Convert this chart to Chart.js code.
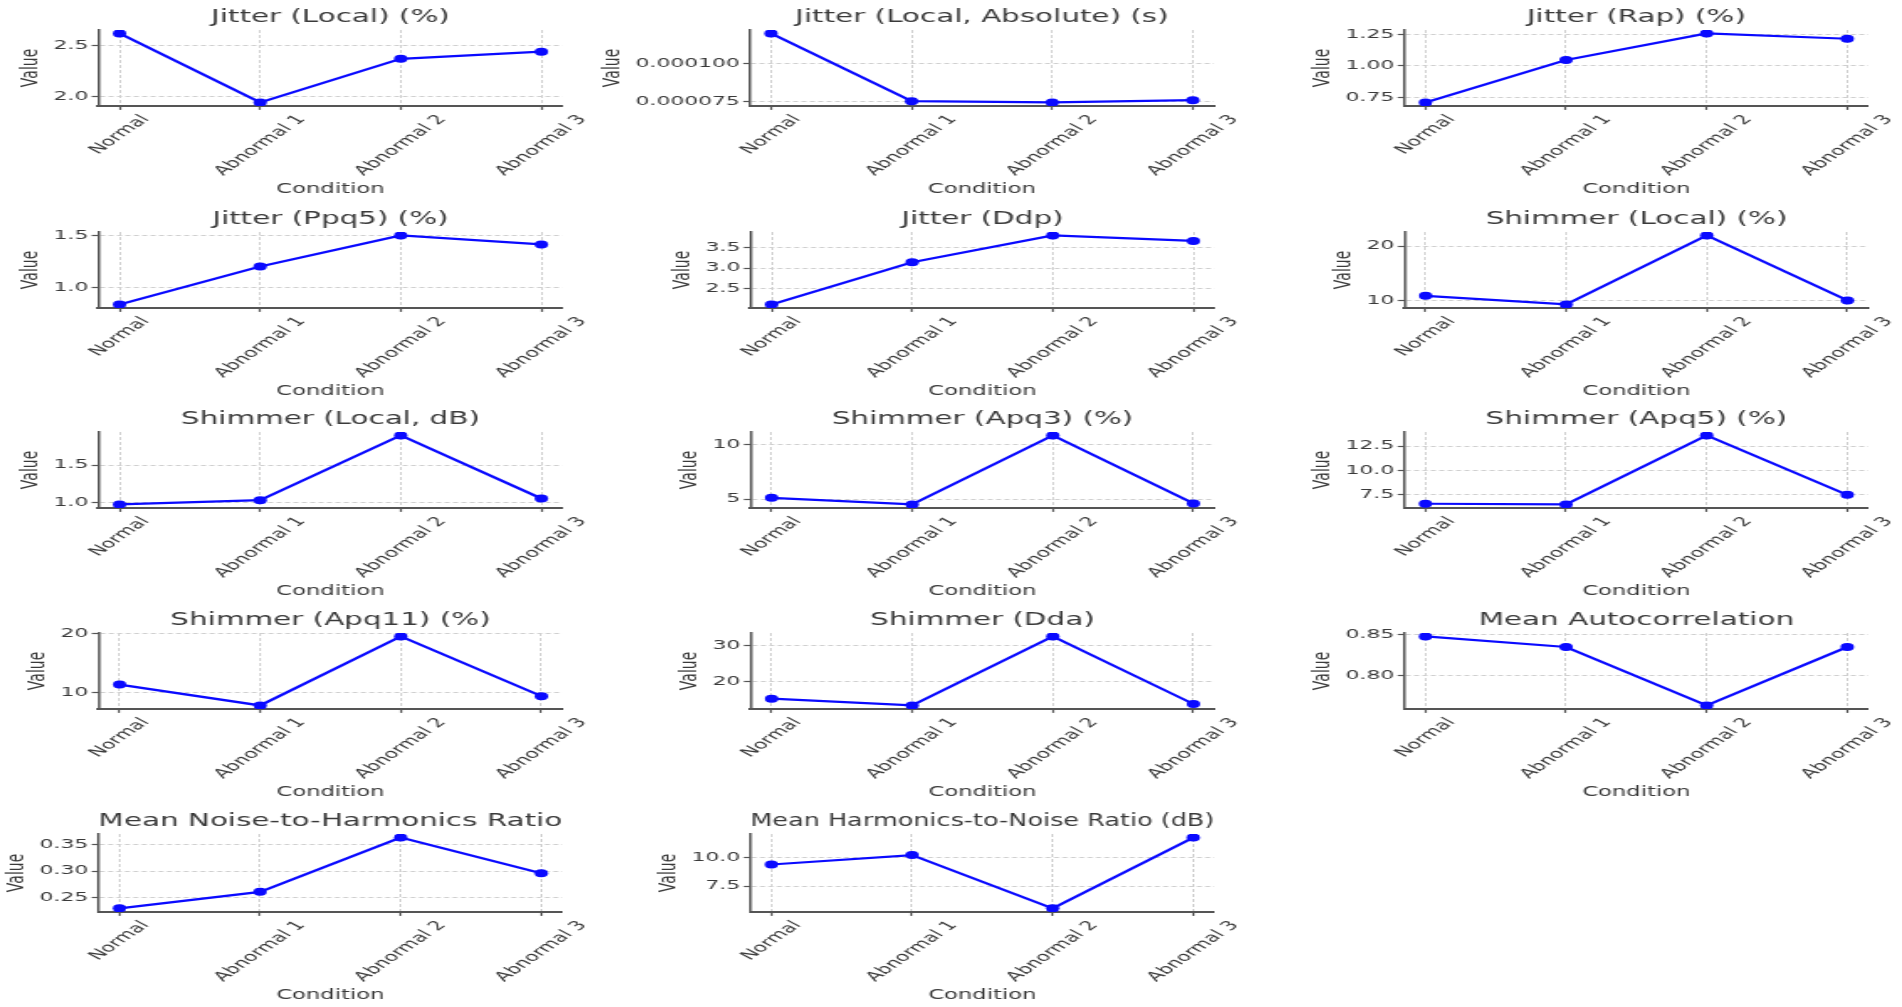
<!DOCTYPE html>
<html>
<head>
<meta charset="utf-8">
<title>Voice measures by condition</title>
<script src="https://cdn.jsdelivr.net/npm/chart.js@4.4.1/dist/chart.umd.min.js"></script>
<style>
  html, body { margin: 0; padding: 0; background: #fff; }
  #page { position: relative; width: 1902px; height: 1007px; overflow: hidden; background: #fff; }
  .cell { position: absolute; transform-origin: 0 0; }
  .cell canvas { display: block; }
</style>
</head>
<body>
<div id="page"></div>
<script>
// categories
const conditions = ['Normal', 'Abnormal 1', 'Abnormal 2', 'Abnormal 3'];

// series values
const jitterLocal    = [2.62, 1.94, 2.37, 2.44];
const jitterLocalAbs = [0.0001196, 0.0000754, 0.0000746, 0.0000761];
const jitterRap      = [0.71, 1.047, 1.258, 1.216];
const jitterPpq5     = [0.835, 1.199, 1.497, 1.411];
const jitterDdp      = [2.13, 3.14, 3.78, 3.65];
const shimmerLocal   = [10.85, 9.27, 21.95, 10.0];
const shimmerLocalDb = [0.97, 1.027, 1.90, 1.05];
const shimmerApq3    = [5.12, 4.51, 10.85, 4.6];
const shimmerApq5    = [6.59, 6.52, 13.58, 7.5];
const shimmerApq11   = [11.4, 7.87, 19.55, 9.44];
const shimmerDda     = [15.2, 13.3, 32.6, 13.7];
const meanAutocorr   = [0.848, 0.835, 0.763, 0.835];
const meanNhr        = [0.23, 0.261, 0.363, 0.296];
const meanHnr        = [9.38, 10.2, 5.56, 11.73];

// tick labels
const jitterLocalTicks    = ['2.0', '2.5'];
const jitterLocalAbsTicks = ['0.000075', '0.000100'];
const jitterRapTicks      = ['0.75', '1.00', '1.25'];
const jitterPpq5Ticks     = ['1.0', '1.5'];
const jitterDdpTicks      = ['2.5', '3.0', '3.5'];
const shimmerLocalTicks   = ['10', '20'];
const shimmerLocalDbTicks = ['1.0', '1.5'];
const shimmerApq3Ticks    = ['5', '10'];
const shimmerApq5Ticks    = ['7.5', '10.0', '12.5'];
const shimmerApq11Ticks   = ['10', '20'];
const shimmerDdaTicks     = ['20', '30'];
const meanAutocorrTicks   = ['0.80', '0.85'];
const meanNhrTicks        = ['0.25', '0.30', '0.35'];
const meanHnrTicks        = ['7.5', '10.0'];

const panels = [
  { title: 'Jitter (Local) (%)', values: jitterLocal, ticks: jitterLocalTicks },
  { title: 'Jitter (Local, Absolute) (s)', values: jitterLocalAbs, ticks: jitterLocalAbsTicks },
  { title: 'Jitter (Rap) (%)', values: jitterRap, ticks: jitterRapTicks },
  { title: 'Jitter (Ppq5) (%)', values: jitterPpq5, ticks: jitterPpq5Ticks },
  { title: 'Jitter (Ddp)', values: jitterDdp, ticks: jitterDdpTicks },
  { title: 'Shimmer (Local) (%)', values: shimmerLocal, ticks: shimmerLocalTicks },
  { title: 'Shimmer (Local, dB)', values: shimmerLocalDb, ticks: shimmerLocalDbTicks },
  { title: 'Shimmer (Apq3) (%)', values: shimmerApq3, ticks: shimmerApq3Ticks },
  { title: 'Shimmer (Apq5) (%)', values: shimmerApq5, ticks: shimmerApq5Ticks },
  { title: 'Shimmer (Apq11) (%)', values: shimmerApq11, ticks: shimmerApq11Ticks },
  { title: 'Shimmer (Dda)', values: shimmerDda, ticks: shimmerDdaTicks },
  { title: 'Mean Autocorrelation', values: meanAutocorr, ticks: meanAutocorrTicks },
  { title: 'Mean Noise-to-Harmonics Ratio', values: meanNhr, ticks: meanNhrTicks },
  { title: 'Mean Harmonics-to-Noise Ratio (dB)', values: meanHnr, ticks: meanHnrTicks }
];

// layout of the grid (page pixels)
const K = 1.68;                      // the picture is stretched sideways
const colSpine = [98, 750, 1404];
const rowTop = [29.5, 231.5, 431.5, 633, 833.5];
const rowPlotH = [76, 76, 76, 76, 78];
const PLOT_W = 464;

const FONT = "'DejaVu Sans', sans-serif";
const TEXT = '#3a3a3a';
const AXIS = '#555555';
const GRID = '#d0d0d0';
const LINE = '#0a0aff';

// matplotlib centres rotated tick labels under the tick, Chart.js ends them there
const centerRotatedLabels = {
  id: 'centerRotatedLabels',
  beforeDraw(chart) {
    const scale = chart.scales.x;
    const items = scale.getLabelItems();
    if (items._centred) return;
    const ctx = chart.ctx;
    ctx.save();
    items.forEach(item => {
      ctx.font = item.font.string;
      const w = ctx.measureText(item.label).width;
      item.options.translation[0] += (w / 2) * Math.cos(item.options.rotation);
    });
    ctx.restore();
    items._centred = true;
  }
};

function makeConfig(panel, padRight) {
  const vals = panel.values;
  const lo = Math.min(...vals), hi = Math.max(...vals);
  const m = (hi - lo) * 0.05;
  const tickVals = panel.ticks.map(Number);
  return {
    type: 'line',
    data: {
      datasets: [{
        data: vals.map((v, i) => ({ x: i, y: v })),
        borderColor: LINE,
        backgroundColor: LINE,
        borderWidth: 2.2,
        pointRadius: 4,
        pointBorderWidth: 0,
        tension: 0
      }]
    },
    options: {
      responsive: false,
      animation: false,
      events: [],
      layout: { padding: { left: 0, right: padRight, top: 0, bottom: 0 } },
      plugins: {
        legend: { display: false },
        tooltip: { enabled: false },
        title: {
          display: true,
          fullSize: false,
          text: panel.title,
          color: TEXT,
          font: { family: FONT, size: 17.5, weight: 'normal' },
          padding: { top: 0, bottom: 2 }
        }
      },
      scales: {
        x: {
          type: 'linear',
          bounds: 'data',
          min: -0.15,
          max: conditions.length - 1 + 0.15,
          afterBuildTicks: s => { s.ticks = conditions.map((c, i) => ({ value: i })); },
          ticks: {
            callback: v => conditions[v],
            minRotation: 49,
            maxRotation: 49,
            autoSkip: false,
            padding: 2,
            color: TEXT,
            font: { family: FONT, size: 13 }
          },
          grid: { color: GRID, lineWidth: 1, tickColor: AXIS, tickLength: 4, tickWidth: 1.2, tickBorderDash: [] },
          border: { color: AXIS, width: 2, dash: [3, 2] },
          title: {
            display: true,
            text: 'Condition',
            color: TEXT,
            font: { family: FONT, size: 13.5 },
            padding: { top: 1, bottom: 0 }
          }
        },
        y: {
          type: 'linear',
          bounds: 'data',
          min: lo - m,
          max: hi + m,
          afterBuildTicks: s => { s.ticks = tickVals.map(v => ({ value: v })); },
          ticks: {
            callback: (v, i) => panel.ticks[i],
            padding: 2,
            color: TEXT,
            font: { family: FONT, size: 13 }
          },
          grid: { color: GRID, lineWidth: 1, tickColor: AXIS, tickLength: 4, tickWidth: 1.2, tickBorderDash: [] },
          border: { color: AXIS, width: 1.5, dash: [3, 2] },
          title: {
            display: true,
            text: 'Value',
            color: TEXT,
            font: { family: FONT, size: 14 },
            padding: { top: 0, bottom: 3 }
          }
        }
      }
    },
    plugins: [centerRotatedLabels]
  };
}

const page = document.getElementById('page');

panels.forEach((panel, n) => {
  const row = Math.floor(n / 3), col = n % 3;
  const wrap = document.createElement('div');
  wrap.className = 'cell';
  wrap.style.transform = 'scaleX(' + K + ')';
  page.appendChild(wrap);

  const build = (w, h, padRight) => {
    wrap.innerHTML = '';
    const c = document.createElement('canvas');
    c.width = w;
    c.height = h;
    wrap.appendChild(c);
    return new Chart(c, makeConfig(panel, padRight));
  };

  // first pass: find how much room the axes and title take
  let chart = build(420, 240, 0);
  const a = chart.chartArea;
  const leftW = a.left, above = a.top, below = chart.height - a.bottom;
  chart.destroy();

  // second pass: exact plot size, room on the right for the last label
  const w = Math.round(leftW + PLOT_W / K + 40);
  const h = Math.round(above + rowPlotH[row] + below);
  chart = build(w, h, w - leftW - PLOT_W / K);

  wrap.style.left = (colSpine[col] - chart.chartArea.left * K) + 'px';
  wrap.style.top = (rowTop[row] - chart.chartArea.top) + 'px';
});
</script>
</body>
</html>
